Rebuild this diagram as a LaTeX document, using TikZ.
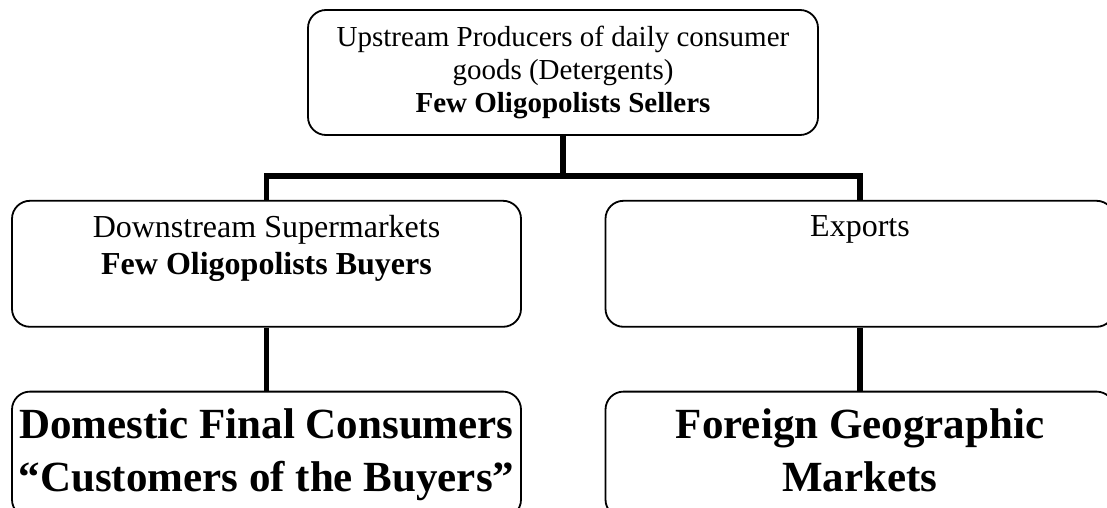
\documentclass[tikz,border=0pt]{standalone}
\usepackage{fontspec}
\setmainfont{Liberation Serif}
\usetikzlibrary{positioning}

\begin{document}
\begin{tikzpicture}[x=1pt, y=1pt, node distance = 64pt,
  box/.style={draw, line width=1.8pt, rounded corners=18pt, minimum width=509pt, minimum height=126pt, inner sep=4pt, align=center},
  midtext/.style={anchor=north, yshift=-15pt, inner sep=0pt, align=center, font=\fontsize{32}{37}\selectfont},
  bigtext/.style={font=\fontsize{43}{53}\selectfont\bfseries},
  link/.style={line width=5.8pt}]
\path[use as bounding box] (0,0) rectangle (1107,-508);
\clip (0,0) rectangle (1107,-508);
\node (U) [box, minimum width=510pt, minimum height=125pt, font=\fontsize{29}{33}\selectfont] at (563,-72.5) {Upstream Producers of daily consumer\\goods (Detergents)\\\textbf{Few Oligopolists Sellers}};
\node (D) [box, below=of U, xshift=-296.5pt, label={[midtext]north:{Downstream Supermarkets\\\textbf{Few Oligopolists Buyers}}}] {};
\node (E) [box, below=of U, xshift=297pt, label={[midtext]north:Exports}] {};
\node (C) [box, bigtext, below=63pt of D] {Domestic Final Consumers\\“Customers of the Buyers”};
\node (F) [box, bigtext, below=63pt of E] {Foreign Geographic\\Markets\vphantom{y}};
\coordinate [below=40pt of U] (M);
\draw[link] (U) -- (M);
\draw[link] (D.north) |- (M) -| (E.north);
\draw[link] (D) -- (C);
\draw[link] (E) -- (F);
\end{tikzpicture}
\end{document}
